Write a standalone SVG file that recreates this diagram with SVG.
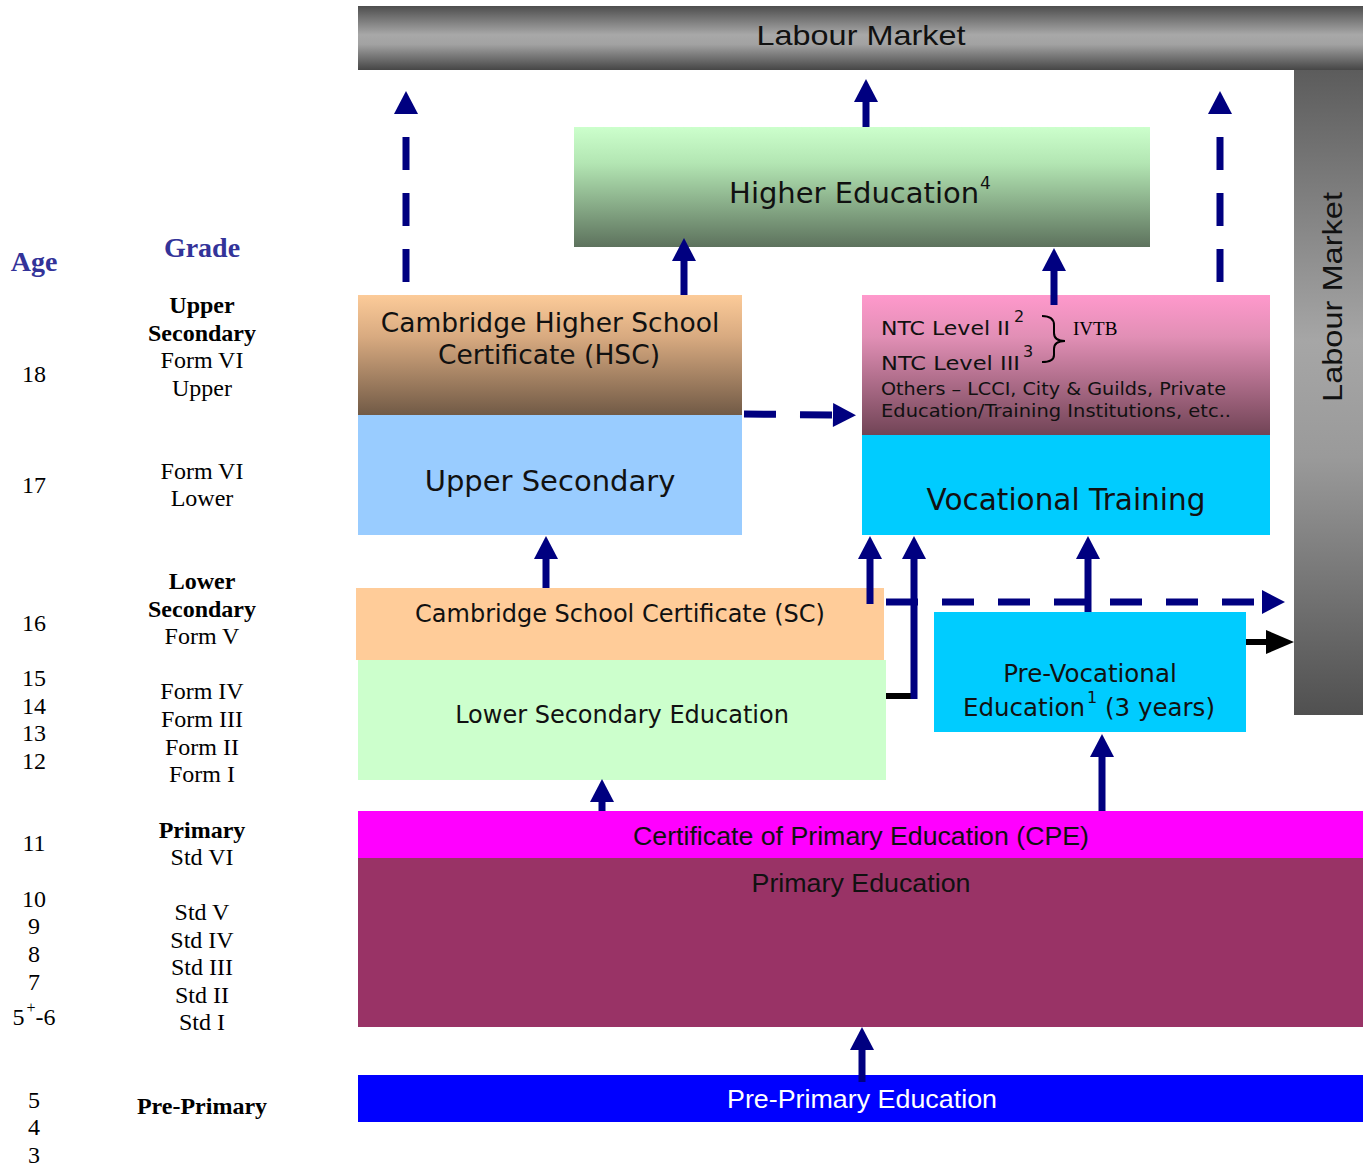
<svg xmlns="http://www.w3.org/2000/svg" width="1363" height="1166" viewBox="0 0 1363 1166">
<defs>
<linearGradient id="gTop" x1="0" y1="0" x2="0" y2="1">
<stop offset="0" stop-color="#4e4e4e"/><stop offset="0.45" stop-color="#a8a8a8"/><stop offset="0.6" stop-color="#a2a2a2"/><stop offset="1" stop-color="#464646"/>
</linearGradient>
<linearGradient id="gSide" x1="0" y1="0" x2="0" y2="1">
<stop offset="0" stop-color="#5c5c5c"/><stop offset="0.42" stop-color="#a6a6a6"/><stop offset="0.6" stop-color="#9a9a9a"/><stop offset="1" stop-color="#505050"/>
</linearGradient>
<linearGradient id="gHigher" x1="0" y1="0" x2="0" y2="1">
<stop offset="0" stop-color="#ccffcc"/><stop offset="0.3" stop-color="#b3e6b3"/><stop offset="1" stop-color="#5d725d"/>
</linearGradient>
<linearGradient id="gHSC" x1="0" y1="0" x2="0" y2="1">
<stop offset="0" stop-color="#fccb99"/><stop offset="0.35" stop-color="#d8aa80"/><stop offset="1" stop-color="#715a46"/>
</linearGradient>
<linearGradient id="gNTC" x1="0" y1="0" x2="0" y2="1">
<stop offset="0" stop-color="#ff99cc"/><stop offset="0.3" stop-color="#e18fb5"/><stop offset="1" stop-color="#714456"/>
</linearGradient>
<marker id="ah" markerUnits="userSpaceOnUse" markerWidth="24" markerHeight="24" refX="0" refY="12" orient="auto" overflow="visible">
<path d="M0,0 L23,12 L0,24 z" fill="#000080"/>
</marker>
<marker id="ahk" markerUnits="userSpaceOnUse" markerWidth="28" markerHeight="24" refX="0" refY="12" orient="auto" overflow="visible">
<path d="M0,0 L28,12 L0,24 z" fill="#000000"/>
</marker>
</defs>
<style>
.box{font-family:"DejaVu Sans",Verdana,sans-serif;fill:#111;text-anchor:middle}
.nar{font-family:"Liberation Sans",Arial,sans-serif;text-anchor:middle}
.ser{font-family:"Liberation Serif","Times New Roman",serif;fill:#000;font-size:24px;text-anchor:middle}
.serb{font-family:"Liberation Serif","Times New Roman",serif;fill:#000;font-size:24px;font-weight:bold;text-anchor:middle}
.hdr{font-family:"Liberation Serif","Times New Roman",serif;fill:#333399;font-size:28px;font-weight:bold;text-anchor:middle}
.ntc{font-family:"DejaVu Sans",Verdana,sans-serif;fill:#111}
.c{stroke:#000080;stroke-width:7;fill:none}
.cd{stroke:#000080;stroke-width:7;fill:none;stroke-dasharray:33 23}
.k{stroke:#000;stroke-width:6;fill:none}
</style>

<g id="labour-market-top">
<rect x="358" y="6" width="1005" height="64" fill="url(#gTop)"/>
<text class="nar" x="861" y="45" font-size="28" fill="#111" textLength="209" lengthAdjust="spacingAndGlyphs">Labour Market</text>
</g>
<g id="labour-market-side">
<rect x="1294" y="70" width="69" height="645" fill="url(#gSide)"/>
<text class="nar" transform="translate(1342,297) rotate(-90)" font-size="28" fill="#111" textLength="210" lengthAdjust="spacingAndGlyphs">Labour Market</text>
</g>

<g id="higher-education">
<rect x="574" y="127" width="576" height="120" fill="url(#gHigher)"/>
<text class="box" x="860" y="203" font-size="29">Higher Education<tspan dx="1" dy="-14" font-size="17">4</tspan></text>
</g>

<g id="hsc">
<rect x="358" y="295" width="384" height="120" fill="url(#gHSC)"/>
<text class="box" x="550" y="332" font-size="26.5">Cambridge Higher School</text>
<text class="box" x="549" y="364" font-size="26.5">Certificate (HSC)</text>
</g>
<g id="upper-secondary">
<rect x="358" y="415" width="384" height="120" fill="#99ccff"/>
<text class="box" x="550" y="491" font-size="29">Upper Secondary</text>
</g>

<g id="ntc">
<rect x="862" y="295" width="408" height="140" fill="url(#gNTC)"/>
<text class="ntc" x="881" y="335" font-size="20" textLength="129" lengthAdjust="spacingAndGlyphs">NTC Level II</text>
<text class="ntc" x="1014" y="322" font-size="16">2</text>
<text class="ntc" x="881" y="370" font-size="20" textLength="139" lengthAdjust="spacingAndGlyphs">NTC Level III</text>
<text class="ntc" x="1023" y="357" font-size="16">3</text>
<path d="M1042,316 Q1054,316 1054,325 L1054,333 Q1054,341 1065,341 Q1054,341 1054,349 L1054,355 Q1054,362 1042,362" stroke="#000" stroke-width="2" fill="none"/>
<text x="1073" y="335" font-family="Liberation Serif, Times New Roman, serif" font-size="19" fill="#000">IVTB</text>
<text class="ntc" x="881" y="395" font-size="17" textLength="345" lengthAdjust="spacingAndGlyphs">Others – LCCI, City &amp; Guilds, Private</text>
<text class="ntc" x="881" y="417" font-size="17" textLength="350" lengthAdjust="spacingAndGlyphs">Education/Training  Institutions, etc..</text>
</g>
<g id="vocational-training">
<rect x="862" y="435" width="408" height="100" fill="#00ccff"/>
<text class="box" x="1066" y="510" font-size="29.5">Vocational Training</text>
</g>

<g id="sc">
<rect x="356" y="588" width="528" height="72" fill="#ffcc99"/>
<text class="box" x="620" y="622" font-size="24">Cambridge School Certificate (SC)</text>
</g>
<g id="lower-secondary">
<rect x="358" y="660" width="528" height="120" fill="#ccffcc"/>
<text class="box" x="622" y="723" font-size="24">Lower Secondary Education</text>
</g>

<g id="pre-vocational">
<rect x="934" y="612" width="312" height="120" fill="#00ccff"/>
<text class="box" x="1090" y="682" font-size="24.5">Pre-Vocational</text>
<text class="box" x="1089" y="716" font-size="24.5">Education<tspan dx="2" dy="-13" font-size="16">1</tspan><tspan dy="13"> (3 years)</tspan></text>
</g>

<g id="cpe">
<rect x="358" y="811" width="1005" height="47" fill="#ff00ff"/>
<text class="nar" x="861" y="845" font-size="25" fill="#111" textLength="456" lengthAdjust="spacingAndGlyphs">Certificate of Primary Education (CPE)</text>
</g>
<g id="primary">
<rect x="358" y="858" width="1005" height="169" fill="#993366"/>
<text class="nar" x="861" y="892" font-size="25" fill="#111" textLength="219" lengthAdjust="spacingAndGlyphs">Primary Education</text>
</g>
<g id="pre-primary">
<rect x="358" y="1075" width="1005" height="47" fill="#0000ff"/>
<text class="nar" x="862" y="1108" font-size="25" fill="#fff" textLength="270" lengthAdjust="spacingAndGlyphs">Pre-Primary Education</text>
</g>

<g id="connectors">
<line class="cd" x1="406" y1="282" x2="406" y2="114" marker-end="url(#ah)"/>
<line class="cd" x1="1220" y1="282" x2="1220" y2="114" marker-end="url(#ah)"/>
<line class="c" x1="866" y1="127" x2="866" y2="102" marker-end="url(#ah)"/>
<line class="c" x1="684" y1="295" x2="684" y2="261" marker-end="url(#ah)"/>
<line class="c" x1="1054" y1="305" x2="1054" y2="271" marker-end="url(#ah)"/>
<line class="c" x1="744" y1="414" x2="833" y2="415" stroke-dasharray="32 24" marker-end="url(#ah)"/>
<line class="c" x1="546" y1="588" x2="546" y2="559" marker-end="url(#ah)"/>
<line class="c" x1="870" y1="604" x2="870" y2="559" marker-end="url(#ah)"/>
<polyline class="k" points="886,696 915,696"/>
<line class="c" x1="914" y1="699" x2="914" y2="559" marker-end="url(#ah)"/>
<line class="c" x1="886" y1="602" x2="1262" y2="602" stroke-dasharray="32 24" marker-end="url(#ah)"/>
<line class="c" x1="1088" y1="612" x2="1088" y2="559" marker-end="url(#ah)"/>
<line class="k" x1="1246" y1="642" x2="1266" y2="642" marker-end="url(#ahk)"/>
<line class="c" x1="1102" y1="811" x2="1102" y2="757" marker-end="url(#ah)"/>
<line class="c" x1="602" y1="811" x2="602" y2="802" marker-end="url(#ah)"/>
<line class="c" x1="862" y1="1082" x2="862" y2="1050" marker-end="url(#ah)"/>
</g>

<g id="age-grade-labels">
<text class="hdr" x="34" y="271">Age</text>
<text class="hdr" x="202" y="257">Grade</text>
<text class="serb" x="202" y="313">Upper</text>
<text class="serb" x="202" y="341">Secondary</text>
<text class="ser" x="202" y="368">Form VI</text>
<text class="ser" x="202" y="396">Upper</text>
<text class="ser" x="34" y="382">18</text>
<text class="ser" x="202" y="479">Form VI</text>
<text class="ser" x="202" y="506">Lower</text>
<text class="ser" x="34" y="493">17</text>
<text class="serb" x="202" y="589">Lower</text>
<text class="serb" x="202" y="617">Secondary</text>
<text class="ser" x="202" y="644">Form V</text>
<text class="ser" x="34" y="631">16</text>
<text class="ser" x="34" y="686">15</text>
<text class="ser" x="34" y="714">14</text>
<text class="ser" x="34" y="741">13</text>
<text class="ser" x="34" y="769">12</text>
<text class="ser" x="202" y="699">Form IV</text>
<text class="ser" x="202" y="727">Form III</text>
<text class="ser" x="202" y="755">Form II</text>
<text class="ser" x="202" y="782">Form I</text>
<text class="serb" x="202" y="838">Primary</text>
<text class="ser" x="202" y="865">Std VI</text>
<text class="ser" x="34" y="851">11</text>
<text class="ser" x="34" y="907">10</text>
<text class="ser" x="34" y="934">9</text>
<text class="ser" x="34" y="962">8</text>
<text class="ser" x="34" y="990">7</text>
<text class="ser" x="34" y="1025">5<tspan dx="2" dy="-12" font-size="16">+</tspan><tspan dy="12">-6</tspan></text>
<text class="ser" x="202" y="920">Std V</text>
<text class="ser" x="202" y="948">Std IV</text>
<text class="ser" x="202" y="975">Std III</text>
<text class="ser" x="202" y="1003">Std II</text>
<text class="ser" x="202" y="1030">Std I</text>
<text class="serb" x="202" y="1114">Pre-Primary</text>
<text class="ser" x="34" y="1108">5</text>
<text class="ser" x="34" y="1135">4</text>
<text class="ser" x="34" y="1163">3</text>
</g>
</svg>
